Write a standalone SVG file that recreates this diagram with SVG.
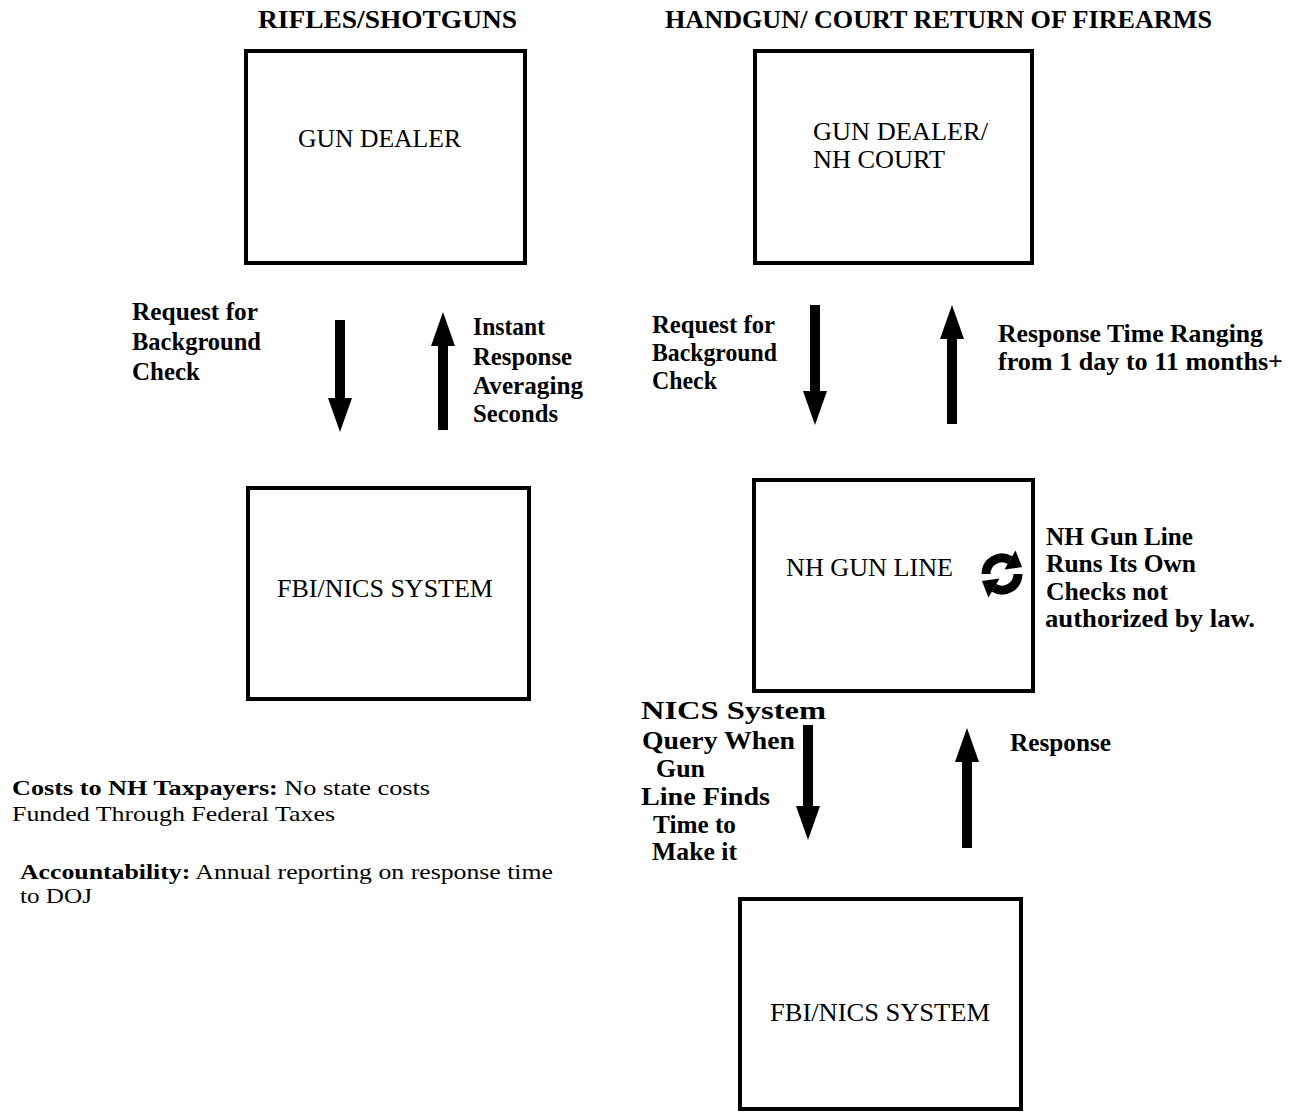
<svg xmlns="http://www.w3.org/2000/svg" width="1300" height="1115" viewBox="0 0 1300 1115">
<style>
.box{fill:#fff;stroke:#000;stroke-width:4}
.t{font-family:"Liberation Serif","Times New Roman",serif;font-size:25px;fill:#000}
.s{font-size:22px}
.b{font-weight:bold}
.arr{stroke:#000;stroke-width:10;fill:none}
</style>
<defs>
<marker id="head" markerUnits="userSpaceOnUse" markerWidth="34" markerHeight="24" refX="4" refY="12" orient="auto" viewBox="0 0 34 24">
<path d="M0,0 L34,12 L0,24 Z" fill="#000"/>
</marker>
</defs>
<rect width="1300" height="1115" fill="#fff"/>

<g id="titles">
<text class="t b" x="258" y="28" textLength="259" lengthAdjust="spacingAndGlyphs">RIFLES/SHOTGUNS</text>
<text class="t b" x="665" y="28" textLength="547" lengthAdjust="spacingAndGlyphs">HANDGUN/ COURT RETURN OF FIREARMS</text>
</g>

<g id="node-gun-dealer">
<rect class="box" x="246" y="51" width="279" height="212"/>
<text class="t" x="298" y="147" textLength="163" lengthAdjust="spacingAndGlyphs">GUN DEALER</text>
</g>
<g id="node-gun-dealer-court">
<rect class="box" x="755" y="51" width="277" height="212"/>
<text class="t" x="813" y="140" textLength="175" lengthAdjust="spacingAndGlyphs">GUN DEALER/</text>
<text class="t" x="813" y="168" textLength="132" lengthAdjust="spacingAndGlyphs">NH COURT</text>
</g>
<g id="node-fbi-left">
<rect class="box" x="248" y="488" width="281" height="211"/>
<text class="t" x="277" y="597" textLength="216" lengthAdjust="spacingAndGlyphs">FBI/NICS SYSTEM</text>
</g>
<g id="node-nh-gun-line">
<rect class="box" x="754" y="480" width="279" height="211"/>
<text class="t" x="786" y="576" textLength="167" lengthAdjust="spacingAndGlyphs">NH GUN LINE</text>
<g id="cycle-icon">
<path d="M986,574 A16,16 0 0 1 1010,560.1" fill="none" stroke="#000" stroke-width="9"/>
<path d="M1015.5,550.6 L1004.5,569.6 L1022.1,567.1 Z" fill="#000"/>
<path d="M1018,574 A16,16 0 0 1 994,587.9" fill="none" stroke="#000" stroke-width="9"/>
<path d="M988.5,597.4 L999.5,578.4 L981.9,580.9 Z" fill="#000"/>
</g>
</g>
<g id="node-fbi-right">
<rect class="box" x="740" y="899" width="281" height="210"/>
<text class="t" x="770" y="1021" textLength="220" lengthAdjust="spacingAndGlyphs">FBI/NICS SYSTEM</text>
</g>

<g id="connectors">
<line class="arr" x1="340" y1="320" x2="340" y2="402" marker-end="url(#head)"/>
<line class="arr" x1="443" y1="430" x2="443" y2="342" marker-end="url(#head)"/>
<line class="arr" x1="815" y1="305" x2="815" y2="395" marker-end="url(#head)"/>
<line class="arr" x1="952" y1="424" x2="952" y2="335" marker-end="url(#head)"/>
<line class="arr" x1="808" y1="725" x2="808" y2="810" marker-end="url(#head)"/>
<line class="arr" x1="967" y1="848" x2="967" y2="758" marker-end="url(#head)"/>
</g>

<g id="labels">
<text class="t b" x="132" y="320" textLength="126" lengthAdjust="spacingAndGlyphs">Request for</text>
<text class="t b" x="132" y="350" textLength="129" lengthAdjust="spacingAndGlyphs">Background</text>
<text class="t b" x="132" y="380" textLength="68" lengthAdjust="spacingAndGlyphs">Check</text>

<text class="t b" x="473" y="335" textLength="72" lengthAdjust="spacingAndGlyphs">Instant</text>
<text class="t b" x="473" y="365" textLength="99" lengthAdjust="spacingAndGlyphs">Response</text>
<text class="t b" x="473" y="394" textLength="110" lengthAdjust="spacingAndGlyphs">Averaging</text>
<text class="t b" x="473" y="422" textLength="85" lengthAdjust="spacingAndGlyphs">Seconds</text>

<text class="t b" x="652" y="333" textLength="123" lengthAdjust="spacingAndGlyphs">Request for</text>
<text class="t b" x="652" y="361" textLength="125" lengthAdjust="spacingAndGlyphs">Background</text>
<text class="t b" x="652" y="389" textLength="65" lengthAdjust="spacingAndGlyphs">Check</text>

<text class="t b" x="998" y="342" textLength="265" lengthAdjust="spacingAndGlyphs">Response Time Ranging</text>
<text class="t b" x="998" y="370" textLength="285" lengthAdjust="spacingAndGlyphs">from 1 day to 11 months+</text>

<text class="t b" x="1046" y="545" textLength="147" lengthAdjust="spacingAndGlyphs">NH Gun Line</text>
<text class="t b" x="1046" y="572" textLength="150" lengthAdjust="spacingAndGlyphs">Runs Its Own</text>
<text class="t b" x="1046" y="600" textLength="122" lengthAdjust="spacingAndGlyphs">Checks not</text>
<text class="t b" x="1045" y="627" textLength="210" lengthAdjust="spacingAndGlyphs">authorized by law.</text>

<text class="t b" x="641" y="719" textLength="185" lengthAdjust="spacingAndGlyphs">NICS System</text>
<text class="t b" x="642" y="749" textLength="153" lengthAdjust="spacingAndGlyphs">Query When</text>
<text class="t b" x="656" y="777" textLength="49" lengthAdjust="spacingAndGlyphs">Gun</text>
<text class="t b" x="641" y="805" textLength="129" lengthAdjust="spacingAndGlyphs">Line Finds</text>
<text class="t b" x="653" y="833" textLength="83" lengthAdjust="spacingAndGlyphs">Time to</text>
<text class="t b" x="652" y="860" textLength="85" lengthAdjust="spacingAndGlyphs">Make it</text>

<text class="t b" x="1010" y="751" textLength="101" lengthAdjust="spacingAndGlyphs">Response</text>

<text class="t s" x="12" y="795" textLength="418" lengthAdjust="spacingAndGlyphs"><tspan class="b">Costs to NH Taxpayers:</tspan>  No state costs</text>
<text class="t s" x="12" y="821" textLength="323" lengthAdjust="spacingAndGlyphs">Funded Through Federal Taxes</text>
<text class="t s" x="20" y="879" textLength="533" lengthAdjust="spacingAndGlyphs"><tspan class="b">Accountability:</tspan> Annual reporting on response time</text>
<text class="t s" x="20" y="903" textLength="72" lengthAdjust="spacingAndGlyphs">to DOJ</text>
</g>
</svg>
